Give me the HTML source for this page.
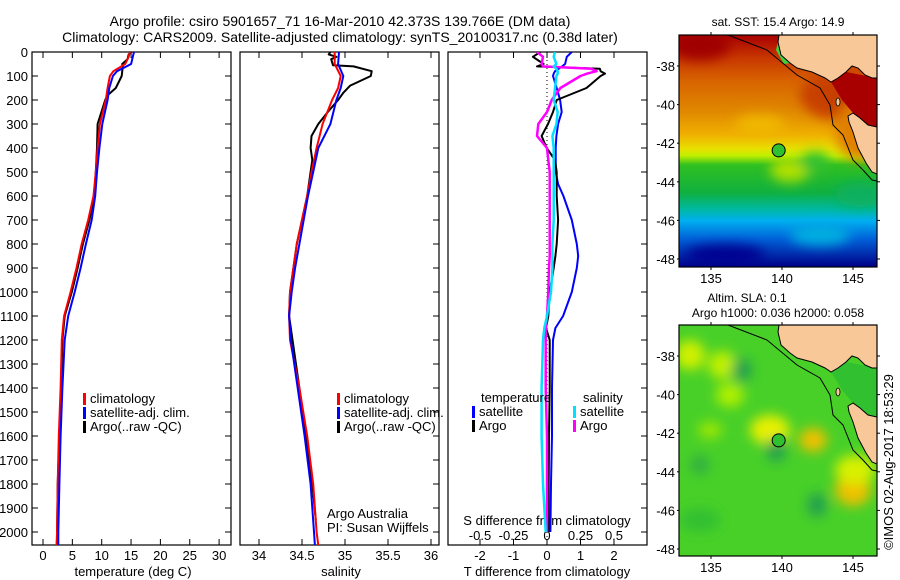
<!DOCTYPE html>
<html><head><meta charset="utf-8">
<style>
html,body{margin:0;padding:0;background:#fff;}
svg{display:block;font-family:"Liberation Sans",sans-serif;}
text{fill:#000;}
</style></head>
<body>
<svg id="fig" width="900" height="580" viewBox="0 0 900 580" xmlns="http://www.w3.org/2000/svg">
<defs>
<clipPath id="c1"><rect x="32" y="52" width="199" height="493"/></clipPath>
<clipPath id="c2"><rect x="240" y="52" width="199" height="493"/></clipPath>
<clipPath id="c3"><rect x="448" y="52" width="199" height="493"/></clipPath>
<clipPath id="cm1"><rect x="679" y="35" width="198" height="232"/></clipPath>
<clipPath id="cm2"><rect x="679" y="325" width="198" height="231"/></clipPath>
<filter id="blur" x="-50%" y="-50%" width="200%" height="200%"><feGaussianBlur stdDeviation="6"/></filter>
<linearGradient id="sstg" x1="0" y1="0" x2="0" y2="1">
<stop offset="0" stop-color="#a80000"/><stop offset="0.1" stop-color="#c83800"/>
<stop offset="0.2" stop-color="#d86400"/><stop offset="0.33" stop-color="#e08800"/>
<stop offset="0.43" stop-color="#f0b000"/><stop offset="0.49" stop-color="#e8e000"/>
<stop offset="0.52" stop-color="#c0f000"/><stop offset="0.56" stop-color="#30c020"/>
<stop offset="0.68" stop-color="#10b040"/><stop offset="0.75" stop-color="#00b8a0"/>
<stop offset="0.8" stop-color="#00b0f0"/><stop offset="0.88" stop-color="#0060d8"/>
<stop offset="1" stop-color="#000088"/>
</linearGradient>
</defs>
<g id="title" font-size="14" text-anchor="middle">
<text x="340" y="26">Argo profile: csiro 5901657_71 16-Mar-2010 42.373S 139.766E (DM data)</text>
<text x="340" y="42">Climatology: CARS2009. Satellite-adjusted climatology: synTS_20100317.nc (0.38d later)</text>
</g>
<g id="panels"></g>
<g id="maps"></g>
<text font-size="13" text-anchor="middle" transform="translate(893,462) rotate(-90)">©IMOS 02-Aug-2017 18:53:29</text>
</svg>
<script>
// ---------- data ----------
const depthClimT = [0,20,50,80,100,150,200,300,400,500,600,700,800,900,1000,1100,1200,1400,1600,1800,2000,2055];
const tempClim   = [14.8,14.6,14.0,12.0,11.4,11.0,10.7,9.7,9.3,9.0,8.6,7.7,6.6,5.7,4.7,3.6,3.2,3.0,2.7,2.5,2.4,2.3];
const tempSat    = [15.5,15.3,15.0,12.6,11.9,11.3,11.0,10.1,9.6,9.2,8.9,8.3,7.3,6.4,5.4,4.3,3.7,3.3,3.0,2.8,2.6,2.6];
const depthArgoT = [0,10,30,50,60,100,150,180,200,300,400,500,600,700,800,900,1000,1100,1200,1400,1600,1800,2000];
const tempArgo   = [15.0,14.6,14.4,13.5,13.6,13.4,12.4,11.0,10.6,9.3,9.2,9.0,8.7,7.9,6.8,5.9,4.9,3.7,3.3,3.1,2.8,2.5,2.4];
const depthClimS = [0,50,100,150,200,300,400,500,600,700,800,900,1000,1100,1200,1400,1600,1800,2000,2055];
const salClim    = [34.88,34.88,34.95,34.92,34.85,34.74,34.67,34.61,34.56,34.50,34.44,34.40,34.36,34.35,34.36,34.47,34.56,34.63,34.67,34.69];
const salSat     = [34.93,34.92,34.98,34.95,34.90,34.83,34.69,34.63,34.57,34.52,34.47,34.42,34.38,34.35,34.37,34.45,34.53,34.60,34.64,34.65];
const depthArgoS = [0,10,20,30,55,60,80,100,140,170,200,250,300,350,400,450,500,600,700,800,900,1000,1100,1400,1600,1800,1950];
const salArgo    = [34.83,34.81,34.90,34.84,34.86,35.10,35.31,35.30,35.06,34.98,34.92,34.80,34.69,34.61,34.60,34.62,34.60,34.56,34.50,34.44,34.40,34.36,34.35,34.47,34.55,34.62,34.66];
const depthDiff  = [0,20,50,60,70,80,90,100,150,200,250,300,350,400,450,500,550,600,700,800,850,900,1000,1100,1150,1200,1400,1600,1800,2000];
const dTempSat   = [0.74,0.59,0.54,0.45,0.35,0.24,0.2,0.18,0.29,0.39,0.44,0.33,0.28,0.26,0.26,0.26,0.33,0.49,0.74,0.89,0.93,0.89,0.74,0.48,0.25,0.18,0.15,0.15,0.12,0.1];
const dTempArgo  = [-0.2,-0.42,-0.1,-0.3,1.58,1.6,1.73,1.6,1.18,0.29,0.18,0.03,-0.16,-0.01,0.24,0.29,0.29,0.29,0.33,0.29,0.25,0.2,0.08,0.04,-0.03,0.08,0.08,0.06,0.05,0.05];
const dSalSat    = [0.06,0.05,0.07,0.05,0.07,0.08,0.08,0.07,0.06,0.05,0.08,0.07,0.04,0.05,0.05,0.05,0.05,0.05,0.05,0.04,0.04,0.04,0.03,0.0,-0.02,-0.03,-0.04,-0.04,-0.03,-0.01];
const dSalArgo   = [-0.075,-0.03,-0.04,-0.03,0.33,0.37,0.3,0.25,0.1,0.035,0.0,-0.065,-0.075,0.0,0.01,0.02,0.02,0.02,0.02,0.02,0.02,0.015,0.01,0.0,-0.01,-0.01,-0.01,0.0,0.0,0.0];
const depthTicks = [0,100,200,300,400,500,600,700,800,900,1000,1100,1200,1300,1400,1500,1600,1700,1800,1900,2000];
const tempTicks  = [0,5,10,15,20,25,30];
const salTicks   = [34,34.5,35,35.5,36];
const dTTicks    = [-2,-1,0,1,2];
const dSTicks    = [-0.5,-0.25,0,0.25,0.5];
const latTicks   = [-38,-40,-42,-44,-46,-48];
const lonTicks   = [135,140,145];
const argoLon = 139.766, argoLat = -42.373;

// ---------- axes ----------
const yD  = d => 52 + d*0.24;
const xT  = t => 43 + t*5.87;
const xS  = s => 259 + (s-34)*86;
const xDT = t => 547 + t*33.5;
const xDS = s => 547 + s*134;
const lonX = lon => 711 + (lon-135)*14.2;
const latY = (lat,top) => top + 31 + (-38-lat)*19.3;

const NS='http://www.w3.org/2000/svg';
function mk(tag, attrs, parent){const e=document.createElementNS(NS,tag);for(const k in attrs)e.setAttribute(k,attrs[k]);parent.appendChild(e);return e;}
const P=document.getElementById('panels');

function panel(x0,name){
  const r=mk('rect',{x:x0,y:52,width:199,height:493,fill:'none',stroke:'#000','stroke-width':1.2},P);
  
  
}
panel(32,'temperature-panel');panel(240,'salinity-panel');panel(448,'difference-panel');

// depth ticks
const yt=mk('g',{},P);


depthTicks.forEach(d=>{
  const y=yD(d);
  const t=mk('text',{x:28,y:y+5,'font-size':13,'text-anchor':'end'},yt);t.textContent=d;
  
  
  mk('line',{x1:32,x2:38,y1:y,y2:y,stroke:'#000'},yt);
  [231,439,647].forEach(xr=>mk('line',{x1:xr-6,x2:xr,y1:y,y2:y,stroke:'#000'},yt));
});
function xticks(ticks,fx,labY,name,fmt){
  const g=mk('g',{},P);
  
  
  ticks.forEach(v=>{const x=fx(v);
    mk('line',{x1:x,x2:x,y1:52,y2:58,stroke:'#000'},g);
    mk('line',{x1:x,x2:x,y1:539,y2:545,stroke:'#000'},g);
    const t=mk('text',{x:x,y:labY,'font-size':13,'text-anchor':'middle'},g);t.textContent=fmt?fmt(v):v;
    
    
  });
}
xticks(tempTicks,xT,560,'temperature-axis');
xticks(salTicks,xS,560,'salinity-axis');
xticks(dTTicks,xDT,560,'t-difference-axis');
// S diff labels inside
const sg=mk('g',{},P);


dSTicks.forEach(v=>{const t=mk('text',{x:xDS(v),y:540,'font-size':13,'text-anchor':'middle'},sg);t.textContent=v;
  
  });

function label(x,y,txt,name,anchor){const t=mk('text',{x:x,y:y,'font-size':13,'text-anchor':anchor||'middle'},P);t.textContent=txt;
  
  return t;}
label(133,576,'temperature (deg C)','x-axis-title-temperature');
label(341,576,'salinity','x-axis-title-salinity');
label(547,576,'T difference from climatology','x-axis-title-t-diff');
label(547,525,'S difference from climatology','x-axis-title-s-diff');
label(327,518,'Argo Australia','credit-argo-australia','start');
label(327,532,'PI: Susan Wijffels','credit-pi','start');

// dotted zero line
const z=mk('line',{x1:xDT(0),x2:xDT(0),y1:52,y2:545,stroke:'#000','stroke-dasharray':'1,3'},P);



function series(depths,vals,fx,color,clip,name,w){
  const pts=depths.map((d,i)=>fx(vals[i]).toFixed(1)+','+yD(d).toFixed(1)).join(' ');
  const pl=mk('polyline',{points:pts,fill:'none',stroke:color,'stroke-width':w||2,'clip-path':'url(#'+clip+')','stroke-linejoin':'round'},P);
  
  
}
series(depthArgoT,tempArgo,xT,'#000','c1','temp-argo-line');
series(depthClimT,tempClim,xT,'#ff0000','c1','temp-climatology-line');
series(depthClimT,tempSat,xT,'#0000ff','c1','temp-satellite-line');
series(depthArgoS,salArgo,xS,'#000','c2','sal-argo-line');
series(depthClimS,salClim,xS,'#ff0000','c2','sal-climatology-line');
series(depthClimS,salSat,xS,'#0000ff','c2','sal-satellite-line');
series(depthDiff,dTempSat,xDT,'#0000ff','c3','tdiff-satellite-line');
series(depthDiff,dTempArgo,xDT,'#000','c3','tdiff-argo-line');
series(depthDiff,dSalArgo,xDS,'#ff00ff','c3','sdiff-argo-line',2.5);
series(depthDiff,dSalSat,xDS,'#00e0ff','c3','sdiff-satellite-line',2.5);

function legend(x,y,color,txt,name){
  const g=mk('g',{},P);
  
  
  mk('rect',{x:x,y:y-10,width:3,height:12,fill:color},g);
  const t=mk('text',{x:x+7,y:y,'font-size':13},g);t.textContent=txt;
}
legend(83,403,'#ff0000','climatology','legend-climatology');
legend(83,417,'#0000ff','satellite-adj. clim.','legend-satellite');
legend(83,431,'#000','Argo(..raw -QC)','legend-argo');
legend(337,403,'#ff0000','climatology','legend-climatology-sal');
legend(337,417,'#0000ff','satellite-adj. clim.','legend-satellite-sal');
legend(337,431,'#000','Argo(..raw -QC)','legend-argo-sal');
label(481,402,'temperature','legend-title-temperature','start');
label(583,402,'salinity','legend-title-salinity','start');
legend(472,416,'#0000ff','satellite','legend-tdiff-satellite');
legend(472,430,'#000','Argo','legend-tdiff-argo');
legend(573,416,'#00e0ff','satellite','legend-sdiff-satellite');
legend(573,430,'#ff00ff','Argo','legend-sdiff-argo');

// ---------- maps ----------
const M=document.getElementById('maps');
function pts(arr,dy){return arr.map(p=>p[0]+','+(p[1]+dy)).join(' ');}
const vic=[[779,35],[778,42],[781,55],[790,63],[797,68],[812,72],[825,78],[831,82],[838,78],[846,72],[852,66],[858,68],[865,75],[872,78],[877,78],[877,35]];
const tas=[[848,116],[853,113],[860,118],[868,125],[877,127],[877,174],[872,172],[866,163],[858,148],[853,132],[849,122]];
const shelf=[[728,35],[767,50],[797,75],[820,88],[830,105],[833,125],[843,135],[853,160],[863,170],[872,180],[877,181]];
function map(top,kind){
  const dy=top-35;
  const g=mk('g',{},M);
  
  
  const inner=mk('g',{'clip-path':'url(#'+(kind==='sst'?'cm1':'cm2')+')'},g);
  if(kind==='sst'){
    mk('rect',{x:679,y:top,width:198,height:232,fill:'url(#sstg)'},inner);
    const b=mk('g',{filter:'url(#blur)'},inner);
    [[840,95,40,25,'#c84000'],[700,45,30,15,'#a00000'],[860,130,25,30,'#e08000'],[790,170,20,12,'#b0e000'],[815,162,15,10,'#30c030'],[760,125,25,10,'#f0b800'],[860,195,25,12,'#10b060'],[820,235,30,10,'#00b0e0'],[725,255,40,10,'#000090']].forEach(e=>mk('ellipse',{cx:e[0],cy:e[1]+dy,rx:e[2],ry:e[3],fill:e[4]},b));
    mk('polygon',{points:pts([[831,82],[846,72],[877,78],[877,128],[866,124],[853,113],[842,100]],dy),fill:'#a80000'},inner);
    mk('polygon',{points:pts([[778,42],[781,55],[790,63],[784,64],[776,50]],dy),fill:'#40d040'},inner);
  } else {
    mk('rect',{x:679,y:top,width:198,height:231,fill:'#48d028'},inner);
    const b=mk('g',{filter:'url(#blur)'},inner);
    [[690,65,15,15,'#d0f000'],[722,75,14,14,'#c0f000'],[730,105,14,12,'#b0f000'],[770,140,20,15,'#e8f000'],[813,150,14,12,'#f0c000'],[853,200,18,16,'#f0c000'],[855,180,20,15,'#d8f000'],[742,80,10,12,'#20a050'],[776,160,10,12,'#20a050'],[817,215,10,12,'#20a050'],[700,175,10,10,'#30b040'],[710,140,12,8,'#a0e800'],[700,230,20,12,'#30c030']].forEach(e=>mk('ellipse',{cx:e[0],cy:e[1]+dy,rx:e[2],ry:e[3],fill:e[4]},b));
    mk('polygon',{points:pts([[831,82],[846,72],[877,78],[877,128],[866,124],[853,113],[842,100]],dy),fill:'#30c030'},inner);
  }
  mk('polygon',{points:pts(vic,dy),fill:'#f8c898',stroke:'#000','stroke-width':1},inner);
  mk('polygon',{points:pts(tas,dy),fill:'#f8c898',stroke:'#000','stroke-width':1},inner);
  mk('ellipse',{cx:838,cy:102+dy,rx:2,ry:4,fill:'#f8c898',stroke:'#000','stroke-width':0.8},inner);
  mk('polyline',{points:pts(shelf,dy),fill:'none',stroke:'#000','stroke-width':1},inner);
  const dot=mk('circle',{cx:lonX(argoLon),cy:latY(argoLat,top),r:6.5,fill:'#30c030',stroke:'#000','stroke-width':1},g);
  
  
  mk('rect',{x:679,y:top,width:198,height:kind==='sst'?232:231,fill:'none',stroke:'#000','stroke-width':1.2},g);
  const bot=top+(kind==='sst'?232:231);
  latTicks.forEach(l=>{const y=latY(l,top);
    mk('line',{x1:677,x2:679,y1:y,y2:y,stroke:'#000'},g);mk('line',{x1:877,x2:880,y1:y,y2:y,stroke:'#000'},g);
    const t=mk('text',{x:675,y:y+5,'font-size':13,'text-anchor':'end'},g);t.textContent=l;
    
    });
  lonTicks.forEach(l=>{const x=lonX(l);
    mk('line',{x1:x,x2:x,y1:top-3,y2:top,stroke:'#000'},g);mk('line',{x1:x,x2:x,y1:bot,y2:bot+3,stroke:'#000'},g);
    const t=mk('text',{x:x,y:bot+16,'font-size':13,'text-anchor':'middle'},g);t.textContent=l;
    
    });
}
map(35,'sst');map(325,'sla');
function mlabel(x,y,txt,name){const t=mk('text',{x:x,y:y,'font-size':12,'text-anchor':'middle'},M);t.textContent=txt;
  
  }
mlabel(778,26,'sat. SST: 15.4 Argo: 14.9','sst-map-title');
mlabel(747,302,'Altim. SLA: 0.1','sla-map-title');
mlabel(778,317,'Argo h1000: 0.036 h2000: 0.058','sla-map-subtitle');
</script>
</body></html>
